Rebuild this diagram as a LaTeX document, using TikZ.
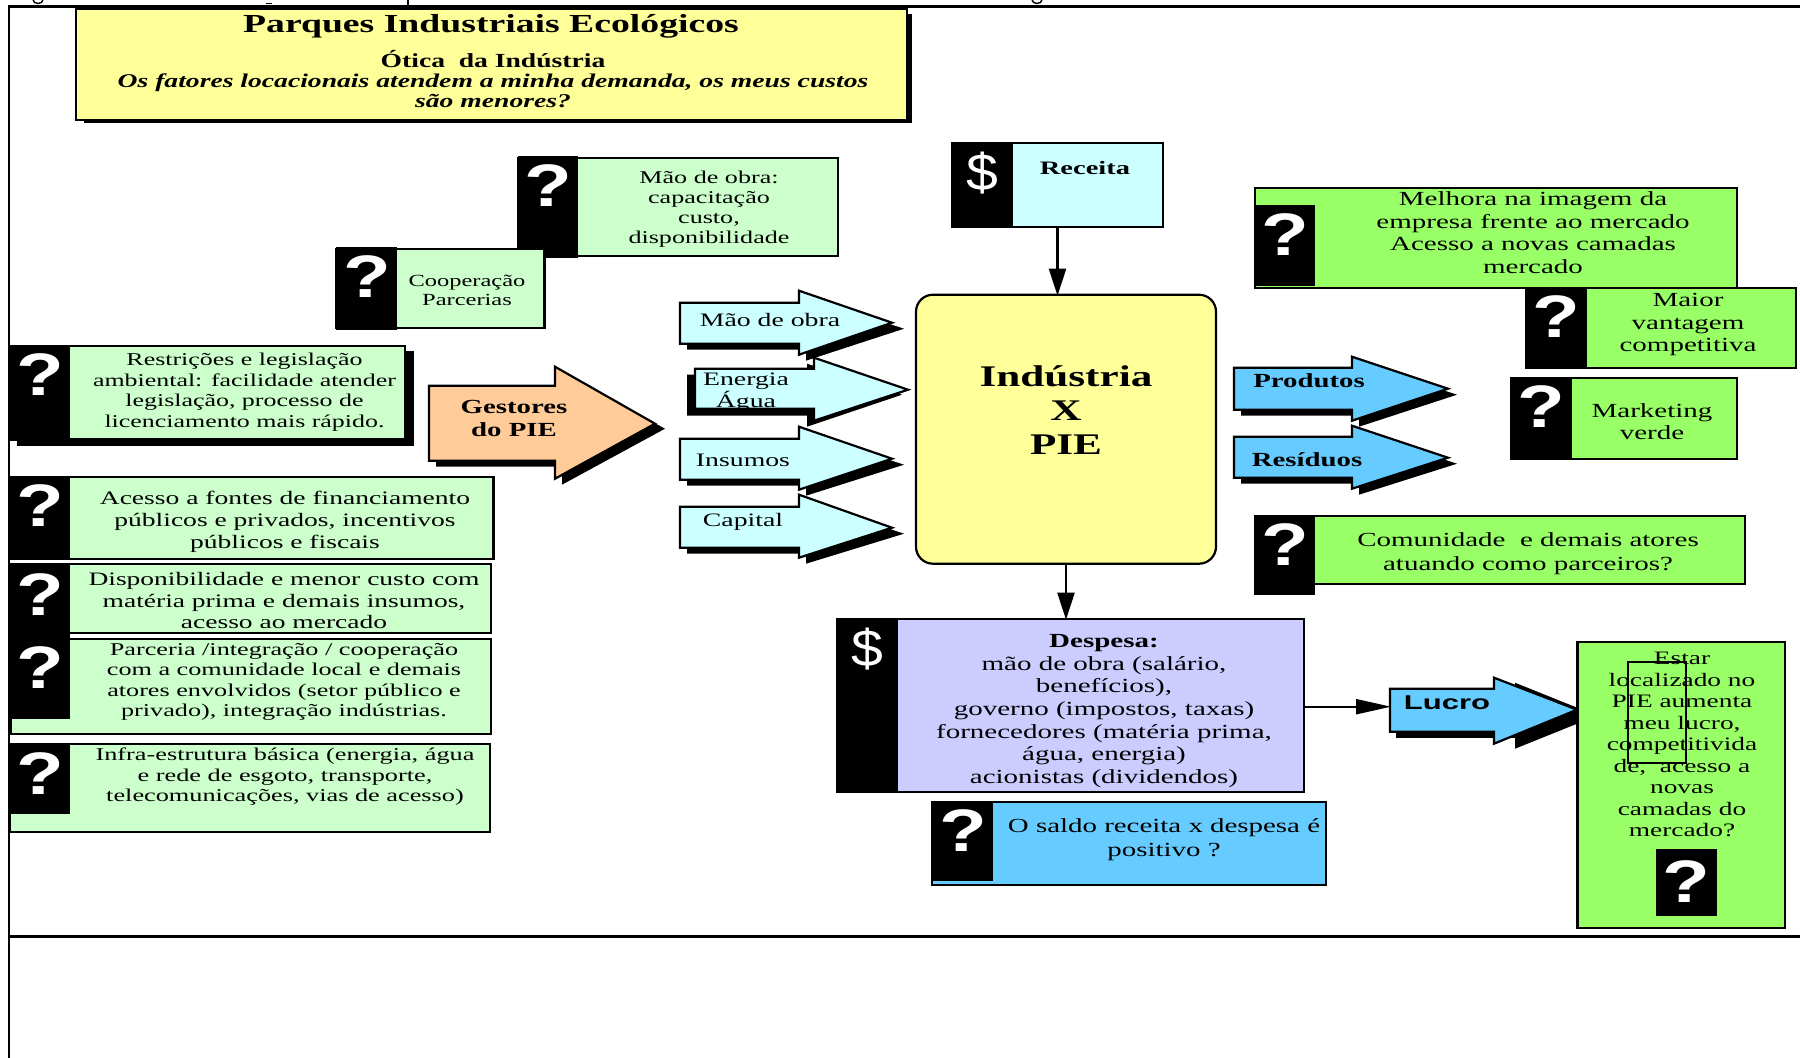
\documentclass[tikz,border=0pt]{standalone}
\usepackage{fontspec}
\usepackage{graphicx}
\setmainfont{Liberation Serif}
\newfontfamily\sansf{Liberation Sans}
\definecolor{ylw}{HTML}{FFFF99}
\definecolor{mint}{HTML}{CCFFCC}
\definecolor{lime}{HTML}{99FF66}
\definecolor{aqua}{HTML}{CCFFFF}
\definecolor{sky}{HTML}{66CCFF}
\definecolor{lav}{HTML}{CCCCFF}
\definecolor{peach}{HTML}{FFCC99}
\newcommand{\ts}[4]{\fontsize{#1}{#2}\selectfont\scalebox{#3}[1]{\begin{tabular}{@{}c@{}}#4\end{tabular}}}
% \bx{name}{x1}{y1}{x2}{y2}{style}
\newcommand{\bx}[6]{\path[#6] (#2,#3) rectangle (#4,#5) coordinate[pos=.5] (#1);}
\newcommand{\qmk}[2]{\node[qmark] at (#1,#2) {\sansf\bfseries\fontsize{60}{60}\selectfont\scalebox{1.3}[1]{?}};}
\newcommand{\dol}[2]{\node[qmark] at (#1,#2) {\sansf\fontsize{52}{52}\selectfont\scalebox{1.1}[1]{\$}};}
% \arw{xl}{xs}{xt}{ystop}{ysbot}{yhtop}{yhbot}{ytip}{style}
\newcommand{\arw}[9]{\draw[#9] (#1,#4) -- (#2,#4) -- (#2,#6) -- (#3,#8) -- (#2,#7) -- (#2,#5) -- (#1,#5) -- cycle;}
\usetikzlibrary{arrows.meta,calc}
\tikzset{
  line/.style={draw=black,line width=2.2pt,line join=miter},
  boxs/.style={line,fill=#1},
  blk/.style={fill=black,draw=none},
  txt/.style={inner sep=0pt,outer sep=0pt,text=black,yshift=-0.8pt},
  qmark/.style={inner sep=0pt,outer sep=0pt,text=white},
  conn/.style={line width=2.2pt,-{Triangle[length=27pt,width=17pt]},shorten >=-1pt},
  connb/.style={line width=2.2pt,-{Triangle[length=35pt,width=15pt]},shorten >=-1pt},
  nbox/.style={draw=black,line width=2.2pt,inner sep=0pt,outer sep=0pt,anchor=center},
}
\begin{document}
\begin{tikzpicture}[x=1pt,y=-1pt]
\useasboundingbox (0,0) rectangle (1800,1058);
\fill[white] (0,0) rectangle (1800,1058);
\begin{scope}[yshift=-0.7pt]
% frame
\draw[line width=2.6pt] (9,1060) -- (9,6) -- (1800,6);
\draw[line width=3.4pt] (9,936) -- (1800,936);
% clipped remnants of the line above the frame
\begin{scope}[line width=1.4pt]
\draw (33,-1) .. controls (33,4) and (43,4) .. (43,-1);
\draw (266,3) -- (272,3);
\draw (408,-1) -- (408,4);
\draw (1032,-1) .. controls (1032,4) and (1042,4) .. (1042,-1);
\end{scope}
% title
\fill[black] (84,13) rectangle (912,122);
\bx{title}{76}{8}{907}{119}{boxs=ylw}
\node[txt,font=\bfseries] (t1) at (491,25) {\ts{26}{30}{1.45}{Parques Industriais Ecológicos}};
\node[txt,font=\bfseries] (t2) at (493,60) {\ts{20}{20}{1.38}{Ótica~ da Indústria}};
\node[txt,font=\bfseries\itshape] (t3) at (493,92) {\ts{19.5}{20.5}{1.417}{Os fatores locacionais atendem a minha demanda, os meus custos\\são menores?}};
% Mao de obra
\bx{b1}{518}{157}{838}{255}{boxs=mint}
\fill[black] (518,155) rectangle (578,257);
\qmk{548}{185}
\node[txt] (b1t) at (709,208) {\ts{18}{20}{1.45}{Mão de obra:\\capacitação\\custo,\\disponibilidade}};
% Cooperacao
\bx{b2}{336}{248}{544.5}{327}{boxs=mint}
\fill[black] (336,246) rectangle (397,329);
\qmk{367}{276}
\node[txt] (b2t) at (467,291) {\ts{17}{19}{1.44}{Cooperação\\Parcerias}};
% Restricoes
\fill[black] (16.5,350) rectangle (414,445);
\bx{b3}{10}{345}{405}{438}{boxs=mint}
\fill[black] (9,344) rectangle (70,440);
\qmk{40}{374}
\node[txt] (b3t) at (244.5,391) {\ts{18}{20.4}{1.44}{Restrições e legislação\\ambiental: facilidade atender\\legislação, processo de\\licenciamento mais rápido.}};
% Acesso
\bx{b4}{10}{476}{493.5}{558}{boxs=mint}
\fill[black] (9,475) rectangle (70,558);
\qmk{40}{505}
\node[txt] (b4t) at (285,520.6) {\ts{19}{22}{1.45}{Acesso a fontes de financiamento\\públicos e privados, incentivos\\públicos e fiscais}};
% Disponibilidade
\bx{b5}{10}{563}{491}{632}{boxs=mint}
\fill[black] (9,563) rectangle (70,637);
\qmk{40}{594}
\node[txt] (b5t) at (284,601.5) {\ts{19}{21.5}{1.447}{Disponibilidade e menor custo com\\matéria prima e demais insumos,\\acesso ao mercado}};
% Parceria
\bx{b6}{11}{638}{491}{733}{boxs=mint}
\fill[black] (9,637) rectangle (70,718);
\qmk{40}{667}
\node[txt] (b6t) at (284,680.5) {\ts{18}{20.3}{1.455}{Parceria /integração / cooperação\\com a comunidade local e demais\\atores envolvidos (setor público e\\privado), integração indústrias.}};
% Infra
\bx{b7}{10}{743}{490}{831}{boxs=mint}
\fill[black] (9,743) rectangle (70,813);
\qmk{40}{773}
\node[txt] (b7t) at (285,775.4) {\ts{18}{20.5}{1.46}{Infra-estrutura básica (energia, água\\e rede de esgoto, transporte,\\telecomunicações, vias de acesso)}};
% Gestores
\arw{436}{562}{665}{391}{466}{372}{484}{428}{blk}
\arw{429}{555}{655}{385}{460}{366}{478}{423}{boxs=peach}
\node[txt,font=\bfseries] (gest) at (514,419) {\ts{20}{23}{1.44}{Gestores\\do PIE}};
% input arrows
\arw{687}{806}{904}{308}{349}{296}{360}{328}{blk}
\arw{680}{799}{892}{302}{343}{290}{354}{322}{boxs=aqua}
\arw{687}{807}{902}{374}{415}{363}{426}{394}{blk}
\arw{695}{814}{908}{368}{408}{357}{420}{389}{boxs=aqua}
\arw{687}{806}{904}{444}{485}{432}{495}{464}{blk}
\arw{680}{799}{892}{438}{479}{426}{489}{458}{boxs=aqua}
\arw{687}{806}{904}{512}{553}{500}{563}{533}{blk}
\arw{680}{799}{892}{506}{547}{494}{557}{527}{boxs=aqua}
\node[txt] (a1) at (770,321) {\ts{19}{21}{1.46}{Mão de obra}};
\node[txt] (a2) at (746,390.6) {\ts{19}{22}{1.46}{Energia\\ Água}};
\node[txt] (a3) at (743,461) {\ts{19}{21}{1.46}{Insumos}};
\node[txt] (a4) at (743,521) {\ts{19}{21}{1.46}{Capital}};
% Industria
\node[draw=black,line width=2.2pt,fill=ylw,rounded corners=17pt,minimum width=300pt,minimum height=269pt,inner sep=0pt,outer sep=0pt] (ind) at (1066,428.5) {};
\node[txt,font=\bfseries,yshift=-0.8pt] (indt) at (1066,411) {\ts{30}{34}{1.44}{Indústria\\X\\PIE}};
% Receita
\node[nbox,fill=aqua,minimum width=211pt,minimum height=84pt] (rec) at (1057.5,184) {};
\fill[black] (952,142) rectangle (1013,226);
\dol{982}{172}
\node[txt,font=\bfseries] (rect) at (1085,169) {\ts{19}{20}{1.5}{Receita}};
\draw[conn] (rec.south) -- (rec.south |- ind.north);
% Output arrows
\arw{1241}{1359}{1457}{373}{415}{362}{426}{394}{blk}
\arw{1234}{1352}{1448}{367}{409}{356}{420}{388}{boxs=sky}
\arw{1241}{1359}{1457}{442}{483}{431}{494}{463}{blk}
\arw{1234}{1352}{1448}{436}{477}{425}{488}{457}{boxs=sky}
\node[txt,font=\bfseries] (prod) at (1309,382) {\ts{20}{21}{1.44}{Produtos}};
\node[txt,font=\bfseries] (resd) at (1307,461) {\ts{20}{21}{1.44}{Resíduos}};
% right boxes
\bx{r1}{1255}{187}{1737}{287}{boxs=lime}
\fill[black] (1255,204) rectangle (1315,285);
\qmk{1285}{234}
\node[txt] (r1t) at (1533,233.5) {\ts{20}{22.7}{1.45}{Melhora na imagem da\\empresa frente ao mercado\\Acesso a novas camadas\\mercado}};
\bx{r2}{1526}{287}{1796}{367}{boxs=lime}
\fill[black] (1525,287) rectangle (1587,368);
\qmk{1556}{316}
\node[txt] (r2t) at (1688,323) {\ts{20}{22.5}{1.45}{Maior\\vantagem\\competitiva}};
\bx{r3}{1511}{377}{1737}{458}{boxs=lime}
\fill[black] (1510,377) rectangle (1572,458);
\qmk{1541}{406}
\node[txt] (r3t) at (1652,422.6) {\ts{20}{22}{1.45}{Marketing\\verde}};
\bx{r4}{1255}{515}{1745}{583}{boxs=lime}
\fill[black] (1254,515) rectangle (1315,594);
\qmk{1285}{544}
\node[txt] (r4t) at (1528,552) {\ts{20}{24}{1.45}{Comunidade~ e demais atores\\atuando como parceiros?}};
% Despesa
\node[nbox,fill=lav,minimum width=467pt,minimum height=173pt] (desp) at (1070.5,704.5) {};
\fill[black] (837,617) rectangle (898,792);
\dol{867}{648}
\node[txt] (despt) at (1104,709.5) {\ts{20}{22.6}{1.45}{\textbf{Despesa:}\\mão de obra (salário,\\benefícios),\\governo (impostos, taxas)\\fornecedores (matéria prima,\\água, energia)\\acionistas (dividendos)}};
\draw[conn] (ind.south) -- (ind.south |- desp.north);
% Lucro
\fill[black] (1396,694) rectangle (1520,737);
\fill[black] (1515,682) -- (1597,715) -- (1515,748) -- cycle;
\arw{1390}{1494}{1577}{688}{731}{677}{743}{709}{boxs=sky}
\coordinate (lucroL) at (1390,706);
\coordinate (despR) at (desp.east |- lucroL);
\node[txt] (lucro) at (1447,703.5) {\ts{20}{21}{1.55}{{\sansf\bfseries Lucro}}};
\draw[connb] (despR) -- (lucroL);
% Saldo
\bx{sal}{932}{801}{1326}{884}{boxs=sky}
\fill[black] (932,800) rectangle (993,880);
\qmk{963}{830}
\node[txt] (salt) at (1164,838) {\ts{20}{24}{1.445}{O saldo receita x despesa é\\positivo ?}};
% Estar
\bx{est}{1577.5}{641}{1785}{927}{boxs=lime}
\node[txt] (estt) at (1682,744.7) {\ts{19}{21.5}{1.44}{Estar\\localizado no\\PIE aumenta\\meu lucro,\\competitivida\\de,~ acesso a\\novas\\camadas do\\mercado?}};
\draw[line width=2pt] (1627.5,661) rectangle (1686,762);
\fill[black] (1656,848) rectangle (1717,915);
\qmk{1686}{881}
\end{scope}
\end{tikzpicture}
\end{document}
